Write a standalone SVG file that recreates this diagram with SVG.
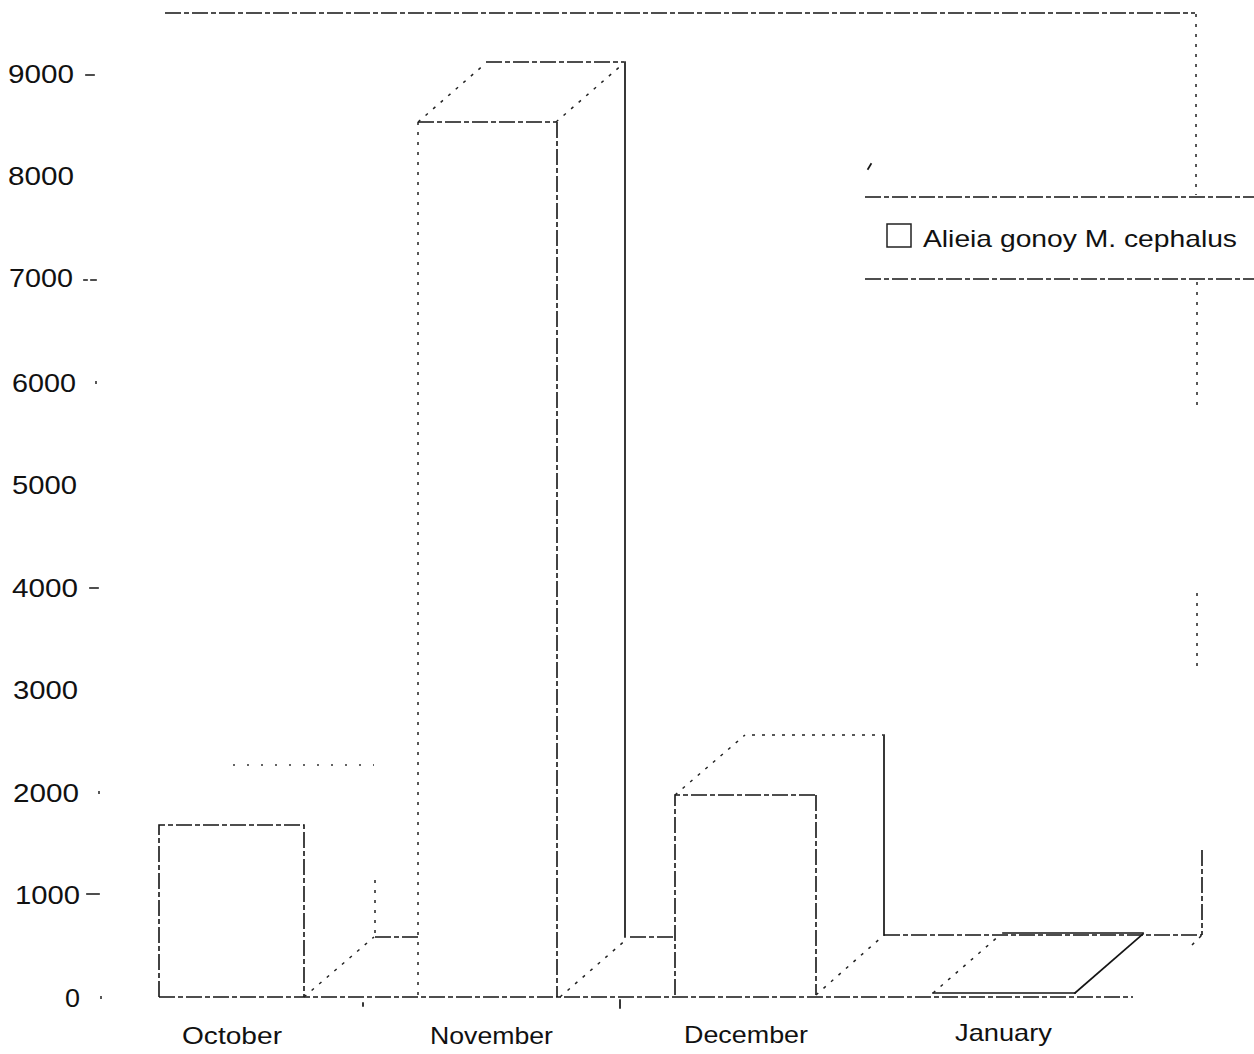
<svg xmlns="http://www.w3.org/2000/svg" width="1254" height="1054" viewBox="0 0 1254 1054">
<style>
.t{font-family:"Liberation Sans",Arial,sans-serif;font-size:25px;fill:#111}
.c{font-family:"Liberation Sans",Arial,sans-serif;font-size:24px;fill:#111}
.s{fill:none;stroke:#151515;stroke-width:1.7;stroke-linecap:square}
.d{fill:none;stroke:#151515;stroke-width:1.6;stroke-dasharray:16 3 5 3}
.o{fill:none;stroke:#222;stroke-width:1.5;stroke-dasharray:3 7}
.f{fill:none;stroke:#333;stroke-width:1.4;stroke-dasharray:2 12}
</style>
<rect width="1254" height="1054" fill="#fff"/>
<g id="y-axis">
<text class="t" x="74" y="83" text-anchor="end" textLength="66" lengthAdjust="spacingAndGlyphs">9000</text>
<text class="t" x="74" y="185" text-anchor="end" textLength="66" lengthAdjust="spacingAndGlyphs">8000</text>
<text class="t" x="73" y="287" text-anchor="end" textLength="64" lengthAdjust="spacingAndGlyphs">7000</text>
<text class="t" x="76" y="392" text-anchor="end" textLength="64" lengthAdjust="spacingAndGlyphs">6000</text>
<text class="t" x="77" y="494" text-anchor="end" textLength="65" lengthAdjust="spacingAndGlyphs">5000</text>
<text class="t" x="78" y="597" text-anchor="end" textLength="66" lengthAdjust="spacingAndGlyphs">4000</text>
<text class="t" x="78" y="699" text-anchor="end" textLength="65" lengthAdjust="spacingAndGlyphs">3000</text>
<text class="t" x="79" y="802" text-anchor="end" textLength="66" lengthAdjust="spacingAndGlyphs">2000</text>
<text class="t" x="80" y="904" text-anchor="end" textLength="65" lengthAdjust="spacingAndGlyphs">1000</text>
<text class="t" x="80" y="1007" text-anchor="end" textLength="15" lengthAdjust="spacingAndGlyphs">0</text>
<path class="s" d="M86 75h8M84 280h3M91 280h5M90 588h8M87 894h12"/>
<path class="o" d="M96 381v4M99 791v4M101 996v3"/>
</g>
<g id="frame">
<path class="d" d="M165 13H1195"/>
<path class="o" d="M1196 14V195"/>
<path class="o" d="M1197 282V405M1197 593V672"/>
<path class="d" d="M1202 850V935"/>
<path class="d" d="M159 997H1133"/>
<path class="s" d="M620 1000v8M363 1003v3"/>
</g>
<g id="bar-october">
<path class="d" d="M159 997V825H304V997"/>
<path class="o" d="M304 997L374 937"/>
<path class="f" d="M233 765H374"/>
<path class="o" d="M375 880V937"/>
<path class="d" d="M375 937H420"/>
</g>
<g id="bar-november">
<path class="o" d="M418 122V997"/>
<path class="d" d="M418 122H556"/>
<path class="d" d="M557 122V997"/>
<path class="o" d="M418 122L486 63"/>
<path class="d" d="M486 62H624"/>
<path class="o" d="M556 122L624 63"/>
<path class="s" d="M625 62V937"/>
<path class="o" d="M560 997L628 938"/>
<path class="d" d="M630 937H675"/>
</g>
<g id="bar-december">
<path class="d" d="M675 995V795H815"/>
<path class="d" d="M816 795V995"/>
<path class="o" d="M675 795L745 735"/>
<path class="o" d="M752 735H883"/>
<path class="s" d="M884 735V935"/>
<path class="o" d="M816 995L884 935"/>
<path class="d" d="M884 935H1202"/>
</g>
<g id="bar-january">
<path class="s" d="M933 993H1075"/>
<path class="o" d="M933 993L1000 935"/>
<path class="s" d="M1075 993L1143 934"/>
<path class="s" d="M1003 933H1143"/>
<path class="o" d="M1192 945L1202 935"/>
</g>
<g id="x-labels">
<text class="c" x="182" y="1044" textLength="100" lengthAdjust="spacingAndGlyphs">October</text>
<text class="c" x="430" y="1044" textLength="123" lengthAdjust="spacingAndGlyphs">November</text>
<text class="c" x="684" y="1043" textLength="124" lengthAdjust="spacingAndGlyphs">December</text>
<text class="c" x="955" y="1041" textLength="97" lengthAdjust="spacingAndGlyphs">January</text>
</g>
<g id="legend">
<path class="d" d="M865 197H1254"/>
<path class="d" d="M865 279H1254"/>
<rect x="887" y="224" width="24" height="23" fill="none" stroke="#222" stroke-width="1.5"/>
<text class="c" x="923" y="247" textLength="314" lengthAdjust="spacingAndGlyphs">Alieia gonoy M. cephalus</text>
<path class="s" d="M868 169l3-5"/>
</g>
</svg>
